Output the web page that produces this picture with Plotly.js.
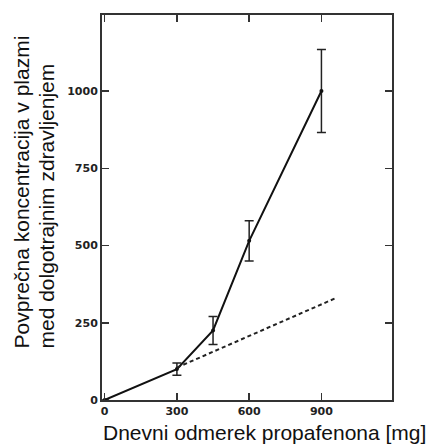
<!DOCTYPE html>
<html>
<head>
<meta charset="utf-8">
<script src="https://cdn.plot.ly/plotly-3.0.1.min.js"></script>
<style>html,body{margin:0;padding:0;background:#fff;}</style>
</head>
<body>
<div id="chart" style="width:432px;height:446px;"></div>
<script>
// Data
const doses = [0, 300, 450, 600, 900];
const meanConc = [0, 100, 225, 515, 1000];
const errConc = [0, 20, 45, 65, 134];
const linearDoses = [300, 960];
const linearConc = [105, 330];
const xTickVals = [0, 300, 600, 900];
const yTickVals = [0, 250, 500, 750, 1000];
const xTitle = "Dnevni odmerek propafenona [mg]";
const yTitleLines = ["Povprečna koncentracija v plazmi", "med dolgotrajnim zdravljenjem"];

const W = 432, H = 446;
const M = {l: 102, r: 40, t: 15, b: 46};
const PW = W - M.l - M.r, PH = H - M.t - M.b;
const px = x => (x - M.l) / PW;
const py = y => (H - M.b - y) / PH;

const traces = [
  {
    x: doses, y: meanConc, type: 'scatter', mode: 'lines+markers',
    line: {color: '#111', width: 2},
    marker: {color: '#111', size: 4},
    error_y: {type: 'data', array: errConc.map((e,i)=> i===0?null:e), visible: true, color: '#222', thickness: 1.5, width: 4.5},
    hoverinfo: 'skip'
  },
  {
    x: linearDoses, y: linearConc, type: 'scatter', mode: 'lines',
    line: {color: '#222', width: 2, dash: '4px,3px'},
    hoverinfo: 'skip'
  }
];

const axisCommon = {
  showgrid: false, zeroline: false, showline: true, linecolor: '#333', linewidth: 2,
  mirror: 'allticks', ticks: 'inside', ticklen: 7, tickwidth: 1.5, tickcolor: '#333',
  tickfont: {family: 'DejaVu Sans', size: 11, color: '#222', weight: 'bold'}
};

const layout = {
  width: W, height: H,
  margin: M,
  paper_bgcolor: '#fff', plot_bgcolor: '#fff',
  showlegend: false,
  xaxis: Object.assign({}, axisCommon, {range: [-11, 1193], tickvals: xTickVals, ticktext: xTickVals.map(String)}),
  yaxis: Object.assign({}, axisCommon, {range: [0, 1246], tickvals: yTickVals, ticktext: yTickVals.map(String)}),
  annotations: [
    {text: xTitle, xref: 'paper', yref: 'paper', x: px(101), y: py(433), xanchor: 'left', yanchor: 'middle', showarrow: false,
     font: {family: 'Liberation Sans', size: 21, color: '#111'}},
    {text: yTitleLines[0], xref: 'paper', yref: 'paper', x: px(21), y: py(351), xanchor: 'center', yanchor: 'bottom', textangle: -90, showarrow: false,
     font: {family: 'Liberation Sans', size: 21, color: '#111'}},
    {text: yTitleLines[1], xref: 'paper', yref: 'paper', x: px(46), y: py(351), xanchor: 'center', yanchor: 'bottom', textangle: -90, showarrow: false,
     font: {family: 'Liberation Sans', size: 21, color: '#111'}}
  ]
};

Plotly.newPlot('chart', traces, layout, {staticPlot: true, displayModeBar: false});
</script>
</body>
</html>
